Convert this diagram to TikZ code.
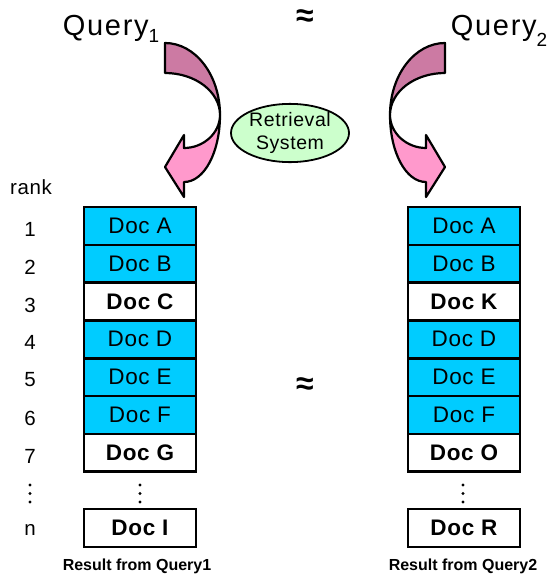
\documentclass[tikz,border=0pt]{standalone}
\usepackage{fontspec}
\setmainfont{Liberation Sans}[LetterSpace=3]
\newfontfamily\plainfont{Liberation Sans}
\newfontfamily\widefont{Liberation Sans}[LetterSpace=6]
\usetikzlibrary{shapes.geometric}
\definecolor{hitcyan}{RGB}{0,204,255}
\definecolor{sysgreen}{RGB}{204,255,204}
\definecolor{bandtop}{RGB}{204,122,163}
\definecolor{bandlow}{RGB}{255,153,204}
\begin{document}
\begin{tikzpicture}[x=1pt,y=-1pt,
  docbox/.style={draw, line width=2.6pt, minimum width=112pt, minimum height=37.8pt, inner sep=0pt, font=\fontsize{22.5}{23}\selectfont},
  hit/.style={docbox, fill=hitcyan},
  miss/.style={docbox, fill=white, font=\fontsize{22.5}{23}\selectfont\bfseries},
  ranklab/.style={inner sep=0pt, font=\fontsize{20.5}{21}\selectfont},
  title/.style={inner sep=0pt, anchor=base, font=\widefont\fontsize{29}{30}\selectfont},
  approxsym/.style={inner sep=0pt, font=\plainfont\bfseries\fontsize{32}{34}\selectfont},
  caption/.style={inner sep=0pt, font=\plainfont\bfseries\fontsize{16}{18}\selectfont},
  band/.style={draw, line width=2.2pt, line join=round},
  dot/.style={fill=black}
]
\useasboundingbox (0,0) rectangle (553,581);

% titles
\node[title] (q1) at (111,35) {Query\raisebox{-7pt}{\fontsize{19}{19}\selectfont 1}};
\node[title] (q2) at (499,35) {Query\raisebox{-11pt}{\fontsize{19}{19}\selectfont 2}};
\node[approxsym] (ap1) at (305,18) {≈};
\node[approxsym] (ap2) at (305,386) {≈};

% retrieval system
\node[ellipse, draw, line width=1.8pt, fill=sysgreen, minimum width=118pt, minimum height=50pt, inner sep=0pt,
      align=center, font=\fontsize{19.5}{23}\selectfont] (sys) at (290,133) {Retrieval\\System};

% curved arrows (left)
\draw[band, fill=bandtop] (165,43) .. controls (195.4,43) and (220,75.2) .. (220,115)
   .. controls (220,91.8) and (195.4,73) .. (165,73) -- cycle;
\draw[band, fill=bandlow] (220,115) .. controls (220,133.2) and (203.3,148) .. (184,148)
   -- (184,135) -- (165,167) -- (184,197) -- (184,182)
   .. controls (204.4,182) and (220,152) .. (220,115) -- cycle;
% curved arrows (right)
\draw[band, fill=bandtop] (445,43) .. controls (414.6,43) and (390,75.2) .. (390,115)
   .. controls (390,91.8) and (414.6,73) .. (445,73) -- cycle;
\draw[band, fill=bandlow] (390,115) .. controls (390,133.2) and (406.7,148) .. (426,148)
   -- (426,135) -- (445,167) -- (426,197) -- (426,182)
   .. controls (405.6,182) and (390,152) .. (390,115) -- cycle;

% rank column
\node[ranklab] (rank) at (31,187) {rank};
\node[ranklab] (r1) at (30,229) {1};
\node[ranklab] (r2) at (30,267) {2};
\node[ranklab] (r3) at (30,305) {3};
\node[ranklab] (r4) at (30,342) {4};
\node[ranklab] (r5) at (30,380) {5};
\node[ranklab] (r6) at (30,418) {6};
\node[ranklab] (r7) at (30,456) {7};
\node[ranklab] (rn) at (30,530) {n};

% left list
\node[hit]  (la) at (140,225.9) {Doc A};
\node[hit]  (lb) at (140,263.7) {Doc B};
\node[miss] (lc) at (140,301.5) {Doc C};
\node[hit]  (ld) at (140,339.3) {Doc D};
\node[hit]  (le) at (140,377.1) {Doc E};
\node[hit]  (lf) at (140,414.9) {Doc F};
\node[miss] (lg) at (140,452.7) {Doc G};
\node[miss] (li) at (140,528) {Doc I};

% right list
\node[hit]  (ra) at (464,225.9) {Doc A};
\node[hit]  (rb) at (464,263.7) {Doc B};
\node[miss] (rc) at (464,301.5) {Doc K};
\node[hit]  (rd) at (464,339.3) {Doc D};
\node[hit]  (re) at (464,377.1) {Doc E};
\node[hit]  (rf) at (464,414.9) {Doc F};
\node[miss] (rg) at (464,452.7) {Doc O};
\node[miss] (ri) at (464,528) {Doc R};

% vertical dots
\foreach \xx in {30,140,463}{
  \foreach \yy in {485,493.5,502}{
    \fill[dot] (\xx,\yy) circle[radius=1.7pt];
  }
}

% captions
\node[caption] (c1) at (137,566) {Result from Query1};
\node[caption] (c2) at (463,566) {Result from Query2};
\end{tikzpicture}
\end{document}
